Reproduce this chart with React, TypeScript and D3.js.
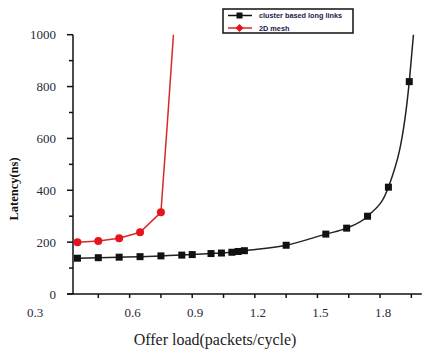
import React from "react";
import * as d3 from "d3";

const redX = [0.35, 0.45, 0.55, 0.65, 0.75];
const redY = [200, 204, 215, 238, 315];
const redTailX = [0.78, 0.81];
const redTailY = [650, 1000];

const blackX = [0.35, 0.45, 0.55, 0.65, 0.75, 0.85, 0.9, 0.99, 1.04, 1.09, 1.12, 1.15, 1.35, 1.54, 1.64, 1.74, 1.84, 1.94];
const blackY = [138, 140, 142, 144, 147, 150, 152, 156, 158, 161, 164, 167, 188, 231, 254, 300, 412, 819];
const blackTailX = [1.96];
const blackTailY = [1000];

const xTickLabels = [0.6, 0.9, 1.2, 1.5, 1.8];
const xMinorTicks = [0.45, 0.6, 0.75, 0.9, 1.05, 1.2, 1.35, 1.5, 1.65, 1.8, 1.95];
const yMajorTicks = [0, 200, 400, 600, 800, 1000];
const yMinorTicks = [100, 300, 500, 700, 900];
const seriesNames = ["cluster based long links", "2D mesh"];

export default function App() {
  const x = d3.scaleLinear().domain([0.3, 2.0]).range([67, 421.8]);
  const y = d3.scaleLinear().domain([0, 1000]).range([294, 34.7]);
  const axisX = 73;
  const blackLine = d3
    .line<[number, number]>()
    .x((d) => x(d[0]))
    .y((d) => y(d[1]))
    .curve(d3.curveMonotoneX);
  const redLine = d3
    .line<[number, number]>()
    .x((d) => x(d[0]))
    .y((d) => y(d[1]));
  const redPts: [number, number][] = redX.map((v, i) => [v, redY[i]] as [number, number]).concat(
    redTailX.map((v, i) => [v, redTailY[i]] as [number, number])
  );
  const blackPts: [number, number][] = blackX.map((v, i) => [v, blackY[i]] as [number, number]).concat(
    blackTailX.map((v, i) => [v, blackTailY[i]] as [number, number])
  );
  const serif = "Liberation Serif, DejaVu Serif, serif";
  const txt = "#2a2a3a";
  return (
    <svg
      width={427}
      height={354}
      style={{ position: "absolute", left: 0, top: 0, background: "#fff" }}
    >
      {/* y axis */}
      <line x1={axisX} x2={axisX} y1={y(1000)} y2={y(0)} stroke="#111" strokeWidth={1.5} />
      {yMajorTicks.map((t) => (
        <g key={"ym" + t}>
          <line x1={axisX - 6} x2={axisX} y1={y(t)} y2={y(t)} stroke="#111" strokeWidth={1.5} />
          <text x={56} y={y(t) + 4.5} textAnchor="end" fontFamily={serif} fontSize={13} fill={txt}>
            {t}
          </text>
        </g>
      ))}
      {yMinorTicks.map((t) => (
        <line key={"yn" + t} x1={axisX - 4} x2={axisX} y1={y(t)} y2={y(t)} stroke="#111" strokeWidth={1.5} />
      ))}
      {/* x axis */}
      <line x1={x(0.3)} x2={x(2.0)} y1={y(0)} y2={y(0)} stroke="#111" strokeWidth={1.5} />
      {xMinorTicks.map((t) => (
        <line key={"xt" + t} x1={x(t)} x2={x(t)} y1={y(0)} y2={y(0) + 4} stroke="#111" strokeWidth={1.5} />
      ))}
      {xTickLabels.map((t) => (
        <text key={"xl" + t} x={x(t) + 3} y={317} textAnchor="middle" fontFamily={serif} fontSize={13} fill={txt}>
          {t.toFixed(1)}
        </text>
      ))}
      <text x={35} y={317} textAnchor="middle" fontFamily={serif} fontSize={13} fill={txt}>
        0.3
      </text>
      {/* titles */}
      <text x={215} y={345} textAnchor="middle" fontFamily={serif} fontSize={16} fill="#222">
        Offer load(packets/cycle)
      </text>
      <text
        transform={`translate(18,189) rotate(-90)`}
        textAnchor="middle"
        fontFamily={serif}
        fontSize={12.5}
        fontWeight="bold"
        fill="#111"
      >
        Latency(ns)
      </text>
      {/* series */}
      <path d={blackLine(blackPts) || ""} fill="none" stroke="#222" strokeWidth={1.5} />
      {blackX.map((v, i) => (
        <rect key={"b" + i} x={x(v) - 3.5} y={y(blackY[i]) - 3.5} width={7} height={7} fill="#111" />
      ))}
      <path d={redLine(redPts) || ""} fill="none" stroke="#d42a2a" strokeWidth={1.5} />
      {redX.map((v, i) => (
        <circle key={"r" + i} cx={x(v)} cy={y(redY[i])} r={4} fill="#e8141c" />
      ))}
      {/* legend */}
      <rect x={223} y={9} width={130} height={24} fill="#fff" stroke="#111" strokeWidth={1.5} />
      <line x1={228} x2={252} y1={15.5} y2={15.5} stroke="#111" strokeWidth={1.5} />
      <rect x={236.5} y={12.5} width={6} height={6} fill="#111" />
      <text x={259} y={18} fontFamily="Liberation Sans, Arial, sans-serif" fontSize={7.3} fontWeight="bold" fill="#1a1a4a">
        {seriesNames[0]}
      </text>
      <line x1={228} x2={252} y1={28} y2={28} stroke="#d42a2a" strokeWidth={1.5} />
      <path d="M239.5,24 L243.5,28 L239.5,32 L235.5,28 Z" fill="#e8141c" />
      <text x={259} y={31} fontFamily="Liberation Sans, Arial, sans-serif" fontSize={7.3} fontWeight="bold" fill="#1a1a4a">
        {seriesNames[1]}
      </text>
    </svg>
  );
}
